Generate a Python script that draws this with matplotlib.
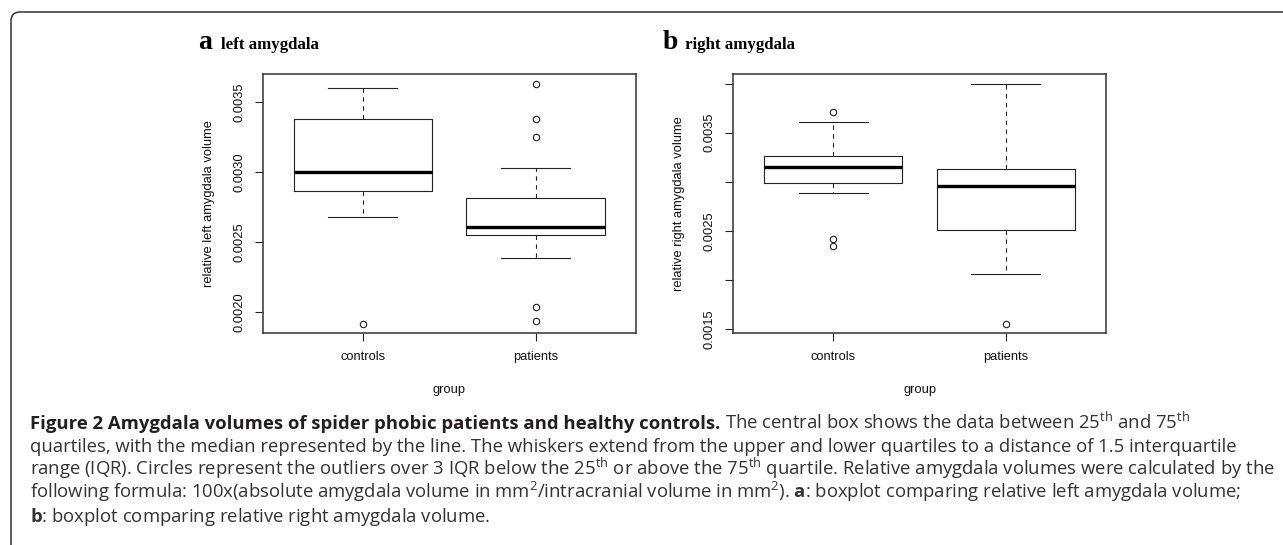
import matplotlib
matplotlib.use('Agg')
import matplotlib.pyplot as plt
from matplotlib.patches import FancyBboxPatch
from matplotlib.transforms import IdentityTransform

# boxplot statistics (controls, patients)
groups = ['controls', 'patients']

left_whislo = [0.002681, 0.002388]
left_q1 = [0.002869, 0.002550]
left_med = [0.003002, 0.002609]
left_q3 = [0.003379, 0.002814]
left_whishi = [0.003604, 0.003029]
left_fliers = [[0.001919], [0.003633, 0.003379, 0.003250, 0.002040, 0.001940]]
left_ticks = [0.0020, 0.0025, 0.0030, 0.0035]
left_ticklabels = ['0.0020', '0.0025', '0.0030', '0.0035']

right_whislo = [0.002888, 0.002064]
right_q1 = [0.002990, 0.002510]
right_med = [0.003153, 0.002956]
right_q3 = [0.003265, 0.003133]
right_whishi = [0.003612, 0.004000]
right_fliers = [[0.003714, 0.002418, 0.002350], [0.001554]]
right_ticks = [0.0015, 0.0020, 0.0025, 0.0030, 0.0035, 0.0040]
right_ticklabels = ['0.0015', '', '0.0025', '', '0.0035', '']

caption_bold = 'Figure 2 Amygdala volumes of spider phobic patients and healthy controls.'
caption_lines = [
    r'The central box shows the data between 25$^{\mathrm{th}}$ and 75$^{\mathrm{th}}$',
    'quartiles, with the median represented by the line. The whiskers extend from the upper and lower quartiles to a distance of 1.5 interquartile',
    r'range (IQR). Circles represent the outliers over 3 IQR below the 25$^{\mathrm{th}}$ or above the 75$^{\mathrm{th}}$ quartile. Relative amygdala volumes were calculated by the',
    r'following formula: 100x(absolute amygdala volume in mm$^{2}$/intracranial volume in mm$^{2}$). $\mathbf{a}$: boxplot comparing relative left amygdala volume;',
    r'$\mathbf{b}$: boxplot comparing relative right amygdala volume.',
]

plt.rcParams['mathtext.fontset'] = 'custom'
plt.rcParams['mathtext.rm'] = 'Open Sans'
plt.rcParams['mathtext.bf'] = 'Open Sans:bold'

W, H = 1283, 545
fig = plt.figure(figsize=(W / 100, H / 100), dpi=100)
ink = '#222222'
sans = 'Liberation Sans'
fs = 9.3


def px_axes(l, t, r, b):
    return fig.add_axes([l / W, 1 - b / H, (r - l) / W, (b - t) / H])


def panel(ax, whislo, q1, med, q3, whishi, fliers, ticks, ticklabels, ylabel, ylab_x):
    stats = []
    for i, g in enumerate(groups):
        stats.append(dict(label=g, whislo=whislo[i], q1=q1[i], med=med[i],
                          q3=q3[i], whishi=whishi[i], fliers=fliers[i]))
    ax.bxp(stats, positions=[1, 2], widths=0.8, capwidths=0.4,
           boxprops=dict(color=ink, lw=0.8),
           medianprops=dict(color='black', lw=2.4, solid_capstyle='butt'),
           whiskerprops=dict(color=ink, lw=0.8, linestyle=(0, (4, 4))),
           capprops=dict(color=ink, lw=0.8),
           flierprops=dict(marker='o', markersize=4.6, markerfacecolor='none',
                           markeredgecolor=ink, markeredgewidth=0.8))
    # R-style range: data range extended by 4%
    vals = whislo + whishi + [v for f in fliers for v in f]
    lo, hi = min(vals), max(vals)
    pad = 0.04 * (hi - lo)
    ax.set_ylim(lo - pad, hi + pad)
    ax.set_xlim(0.42, 2.58)
    ax.set_yticks(ticks)
    ax.set_yticklabels(ticklabels, rotation=90, va='center', family=sans, fontsize=fs)
    ax.set_xticks([1, 2])
    ax.set_xticklabels(groups, family=sans, fontsize=fs)
    ax.tick_params(axis='both', length=5.5, width=0.8, color=ink, labelcolor='#111')
    ax.tick_params(axis='y', pad=7)
    ax.tick_params(axis='x', pad=7.5)
    for s in ax.spines.values():
        s.set_linewidth(1.1)
        s.set_color('#333333')
    ax.text(ylab_x, 0.5, ylabel, rotation=90, ha='center', va='center',
            transform=ax.transAxes, family=sans, fontsize=fs, color='#111')
    ax.text(0.5, -57 / 259.3, 'group', ha='center', va='center',
            transform=ax.transAxes, family=sans, fontsize=fs, color='#111')


ax1 = px_axes(262.7, 74, 635.7, 333.3)
panel(ax1, left_whislo, left_q1, left_med, left_q3, left_whishi, left_fliers,
      left_ticks, left_ticklabels, 'relative left amygdala volume', -0.143)
ax2 = px_axes(733.3, 74, 1106, 333.3)
panel(ax2, right_whislo, right_q1, right_med, right_q3, right_whishi, right_fliers,
      right_ticks, right_ticklabels, 'relative right amygdala volume', -0.145)

# panel letters and titles
serif = 'Liberation Serif'
fig.text(198 / W, 1 - 49 / H, 'a', family=serif, weight='bold', fontsize=20, va='baseline')
fig.text(221 / W, 1 - 49 / H, 'left amygdala', family=serif, weight='bold', fontsize=12.2, va='baseline')
fig.text(663 / W, 1 - 49 / H, 'b', family=serif, weight='bold', fontsize=20, va='baseline')
fig.text(685 / W, 1 - 49 / H, 'right amygdala', family=serif, weight='bold', fontsize=12.2, va='baseline')

# frame around the figure (rounded top-left corner, open to the right/bottom)
frame = FancyBboxPatch((11, -30), 1400, H - 12 + 30, boxstyle='round,pad=0,rounding_size=9',
                       transform=IdentityTransform(), fill=False, lw=1.1, ec='#333333')
fig.add_artist(frame)

# caption
cap_size = 13.3
baselines = [429, 452, 475, 498, 522]
t0 = fig.text(30 / W, 1 - baselines[0] / H, caption_bold, family='Open Sans', weight='bold',
              fontsize=cap_size, va='baseline', color='#231f20')
fig.canvas.draw()
x_end = t0.get_window_extent().x1
fig.text((x_end + 5) / W, 1 - baselines[0] / H, caption_lines[0], family='Open Sans',
         fontsize=cap_size, va='baseline', color='#333333')
for line, yb in zip(caption_lines[1:], baselines[1:]):
    fig.text(30 / W, 1 - yb / H, line, family='Open Sans', fontsize=cap_size,
             va='baseline', color='#333333')

fig.savefig('out.png', dpi=100)
